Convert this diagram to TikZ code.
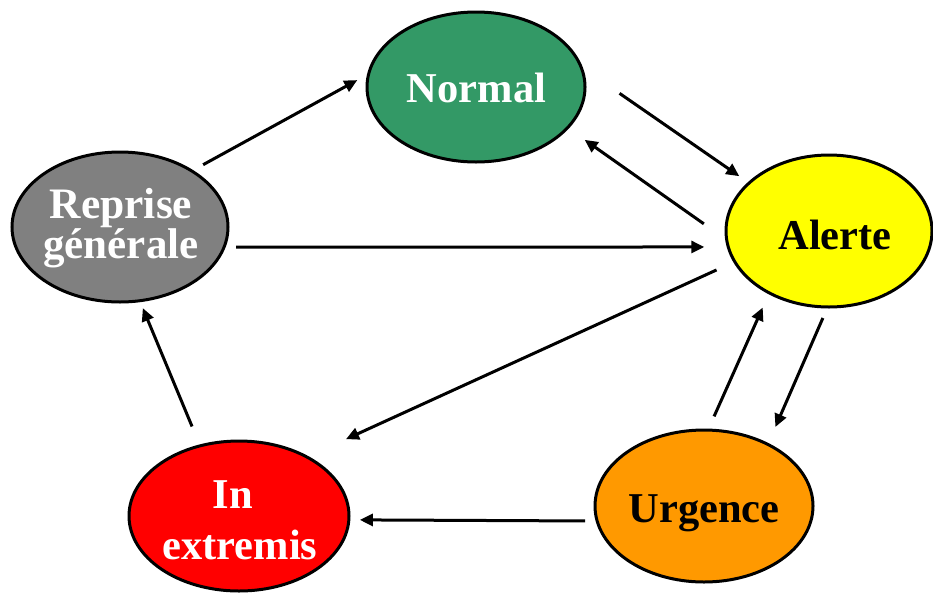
\documentclass[tikz,border=0pt]{standalone}
\usepackage{fontspec}
\setmainfont{Liberation Serif}
\usetikzlibrary{shapes.geometric,arrows.meta}
\definecolor{normalgreen}{RGB}{51,153,102}
\definecolor{alertyellow}{RGB}{255,255,0}
\definecolor{urgorange}{RGB}{255,153,0}
\definecolor{extred}{RGB}{255,0,0}
\definecolor{repgray}{RGB}{128,128,128}
\begin{document}
\begin{tikzpicture}[x=1pt,y=-1pt,
  state/.style={ellipse,draw=black,line width=3pt,inner sep=0pt,outer sep=0pt},
  lbl/.style={anchor=base,inner sep=0pt,font=\bfseries\fontsize{42.5}{42.5}\selectfont},
  flow/.style={line width=3pt,-{Triangle[length=13pt,width=12pt]}}]
\useasboundingbox (0,0) rectangle (933,592);

% states
\node[state,fill=normalgreen,minimum width=218pt,minimum height=150pt] (normal) at (476,87) {};
\node[state,fill=alertyellow,minimum width=206pt,minimum height=152pt] (alerte) at (829,231) {};
\node[state,fill=repgray,minimum width=216pt,minimum height=150pt] (reprise) at (120,227) {};
\node[state,fill=extred,minimum width=220pt,minimum height=150pt] (extremis) at (239,516) {};
\node[state,fill=urgorange,minimum width=218pt,minimum height=152pt] (urgence) at (704,506) {};

% labels
\node[lbl,text=white] (normal-txt) at (476.5,102) {Normal};
\node[lbl,text=black] (alerte-txt) at (835,249) {Alerte};
\node[lbl,text=black] (urgence-txt) at (704,522) {Urgence};
\node[lbl,text=white,font=\bfseries\fontsize{43.5}{43.5}\selectfont] (reprise-txt1) at (121,218.5) {Reprise};
\node[lbl,text=white,font=\bfseries\fontsize{43}{43}\selectfont] (reprise-txt2) at (121,258.5) {générale};
\node[lbl,text=white] (extremis-txt1) at (233,508) {In};
\node[lbl,text=white] (extremis-txt2) at (240,559) {extremis};

% transitions
\draw[flow,shorten <=13pt,shorten >=13pt] (reprise.38.9) -- (normal.173.6);
\draw[flow,shorten <=47pt,shorten >=12pt] (normal.11.4) -- (alerte.149.9);
\draw[flow,shorten <=28pt,shorten >=21pt] (alerte.185) -- (normal.-24.3);
\draw[flow,shorten <=12pt,shorten >=24pt] (reprise.-11.45) -- (alerte.189.6);
\draw[flow,shorten <=20pt,shorten >=43pt] (alerte.198.7) -- (extremis.41.5);
\draw[flow,shorten <=12pt,shorten >=19pt] (alerte.269.1) -- (urgence.44.3);
\draw[flow,shorten <=15pt,shorten >=16pt] (urgence.87.3) -- (alerte.226.4);
\draw[flow,shorten <=12pt,shorten >=11pt] (urgence.188) -- (extremis.-2.6);
\draw[flow,shorten <=21pt,shorten >=8pt] (extremis.119.9) -- (reprise.-75.6);
\end{tikzpicture}
\end{document}
